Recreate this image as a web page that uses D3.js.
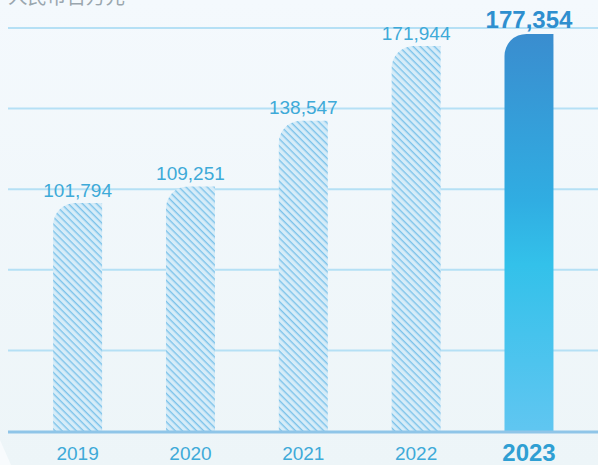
<!DOCTYPE html>
<html><head><meta charset="utf-8">
<script src="https://cdn.jsdelivr.net/npm/d3@7"></script>
<style>html,body{margin:0;padding:0;background:#f2f8fb;}svg{display:block;}</style>
</head><body>
<svg id="chart" width="598" height="465"></svg>
<script>
const years = ["2019", "2020", "2021", "2022", "2023"];
const values = [101794, 109251, 138547, 171944, 177354];
const gridTicks = [36000, 72000, 108000, 144000, 180000];
const unitLabel = "人民币百万元";

const W = 598, H = 465;
const svg = d3.select("#chart");
const defs = svg.append("defs");

const bg = defs.append("linearGradient").attr("id","bg").attr("x1",0).attr("y1",0).attr("x2",0).attr("y2",1);
bg.append("stop").attr("offset","0%").attr("stop-color","#f4f9fd");
bg.append("stop").attr("offset","100%").attr("stop-color","#edf5f8");

const hl = defs.append("linearGradient").attr("id","hl").attr("x1",0).attr("y1",0).attr("x2",0).attr("y2",1);
[["0%","#3a8dcf"],["42%","#30ade2"],["58%","#33c1ea"],["100%","#60c6f1"]].forEach(s=>hl.append("stop").attr("offset",s[0]).attr("stop-color",s[1]));

const pat = defs.append("pattern").attr("id","hatch").attr("patternUnits","userSpaceOnUse")
  .attr("width",5).attr("height",5).attr("patternTransform","rotate(45)");
pat.append("rect").attr("width",5).attr("height",5).attr("fill","#d6ecf8");
pat.append("rect").attr("y",0).attr("width",5).attr("height",1.4).attr("fill","#7dc3ea");

svg.append("rect").attr("width",W).attr("height",H).attr("fill","url(#bg)");
svg.append("path").attr("d","M0,440 L0,465 L11,465 Z").attr("fill","#f8fbfd");

const x = d3.scaleBand().domain(years).range([21.2, 585.4]).paddingInner(0.566).paddingOuter(0.283);
const y = d3.scaleLinear().domain([0, 180000]).range([431, 28]);

// unit label
svg.append("text").attr("x", 8).attr("y", 4)
  .attr("font-family","'Noto Sans CJK SC', sans-serif").attr("font-size", 19.5)
  .attr("fill","#9aa6ae").text(unitLabel);

// gridlines
svg.append("g").selectAll("line").data(gridTicks).join("line")
  .attr("x1", 8).attr("x2", W).attr("y1", d=>y(d)).attr("y2", d=>y(d))
  .attr("stroke","#b5e0f5").attr("stroke-width",2);

const r = 22;
function barPath(d, i){
  const x0 = x(years[i]), w = x.bandwidth(), top = y(d), b = y(0);
  return `M${x0},${b} L${x0},${top+r} A${r},${r} 0 0 1 ${x0+r},${top} L${x0+w},${top} L${x0+w},${b} Z`;
}
const last = years.length - 1;
svg.append("g").selectAll("path").data(values).join("path")
  .attr("d", (d,i)=>barPath(d,i))
  .attr("fill", (d,i)=> i===last ? "url(#hl)" : "url(#hatch)");

// baseline
svg.append("line").attr("x1",8).attr("x2",W).attr("y1",y(0)+1).attr("y2",y(0)+1)
  .attr("stroke","#8fc5e8").attr("stroke-width",3);

const fmt = d3.format(",");
svg.append("g").selectAll("text").data(values).join("text")
  .attr("x",(d,i)=>x(years[i])+x.bandwidth()/2)
  .attr("y",(d,i)=> i===last ? y(d)-6 : y(d)-6.5)
  .attr("text-anchor","middle")
  .attr("font-family","'Liberation Sans', Arial, sans-serif")
  .attr("font-size",(d,i)=> i===last ? 24 : 19)
  .attr("font-weight",(d,i)=> i===last ? "bold" : "normal")
  .attr("fill",(d,i)=> i===last ? "#2e8fcf" : "#3eaad8")
  .text(d=>fmt(d));

// x axis labels
svg.append("g").selectAll("text").data(years).join("text")
  .attr("x", d=>x(d)+x.bandwidth()/2)
  .attr("y", (d,i)=> i===last ? 461 : 460)
  .attr("text-anchor","middle")
  .attr("font-family","'Liberation Sans', Arial, sans-serif")
  .attr("font-size",(d,i)=> i===last ? 24 : 19)
  .attr("font-weight",(d,i)=> i===last ? "bold" : "normal")
  .attr("fill",(d,i)=> i===last ? "#2f9fd3" : "#3eaad8")
  .text(d=>d);
</script>
</body></html>
